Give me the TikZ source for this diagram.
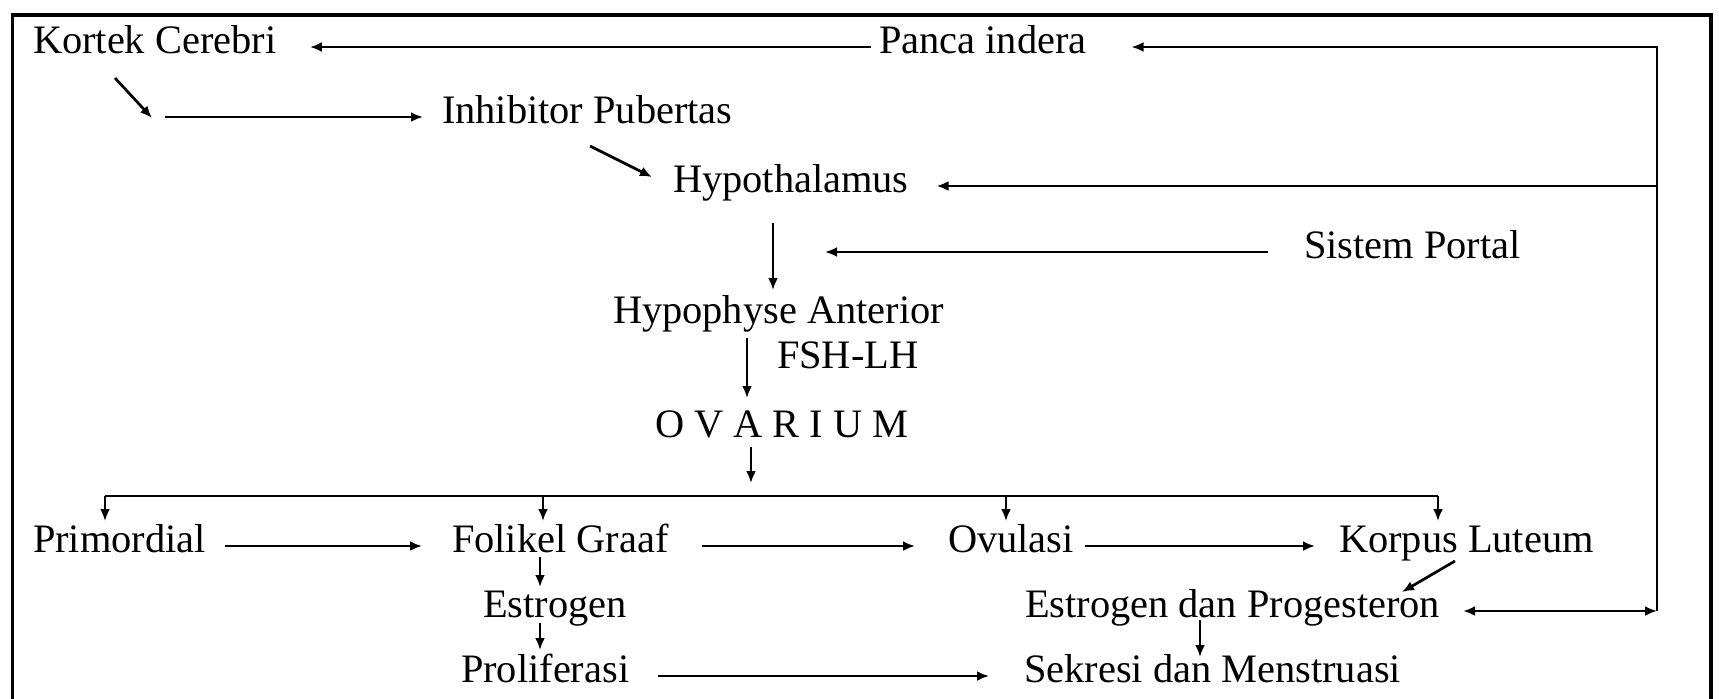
\documentclass[tikz,border=0pt]{standalone}
\usepackage{fontspec}
\setmainfont{Liberation Serif}
\usetikzlibrary{arrows.meta}
\begin{document}
\begin{tikzpicture}[x=0.5pt,y=-0.5pt,
  lbl/.style={anchor=base west,inner sep=0pt,outer sep=0pt,text height=11pt,text depth=5pt,font=\fontsize{20.2}{24}\selectfont},
  conn/.style={line width=1.35pt},
  arr/.style={conn,-{Latex[length=6pt,width=5pt]}},
  arrtwo/.style={conn,{Latex[length=6pt,width=5pt]}-{Latex[length=6pt,width=5pt]}},
  frame/.style={line width=1.7pt}]
\useasboundingbox (0,0) rectangle (1719,698);
\clip (0,0) rectangle (1719,698);
\draw[frame] (12.7,15) rectangle (1711,720);

\node[lbl] (kortek) at (33,53) {Kortek Cerebri};
\node[lbl] (panca) at (879,53) {Panca indera};
\node[lbl] (inhib) at (442,123) {Inhibitor Pubertas};
\node[lbl] (hypo) at (673,192) {Hypothalamus};
\node[lbl] (portal) at (1304,258) {Sistem Portal};
\node[lbl] (hyph) at (613,323) {Hypophyse Anterior};
\node[lbl] (fsh) at (777,368) {FSH-LH};
\node[lbl] (ovar) at (655,437) {O V A R I U M};
\node[lbl] (prim) at (33,552) {Primordial};
\node[lbl] (folikel) at (452,552) {Folikel Graaf};
\node[lbl] (ovul) at (948,552) {Ovulasi};
\node[lbl] (korpus) at (1339,552) {Korpus Luteum};
\node[lbl] (estr) at (483,617) {Estrogen};
\node[lbl] (ep) at (1025,617) {Estrogen dan Progesteron};
\node[lbl] (prolif) at (461,682) {Proliferasi};
\node[lbl] (sek) at (1024,682) {Sekresi dan Menstruasi};

\coordinate (rc) at (1657,47);
\coordinate (k1) at (152,118);
\coordinate (k2) at (165,117);
\coordinate (vx1) at (773,0);
\coordinate (vx2) at (747,0);
\coordinate (vx3) at (751,0);
\coordinate (vx4) at (540,0);
\coordinate (vx5) at (1200,0);
\coordinate (d1) at (105,496);
\coordinate (d2) at (543,496);
\coordinate (d3) at (1006,496);
\coordinate (d4) at (1438,496);

\draw[arr,shorten <=4pt,shorten >=16.75pt] (panca.west) -- (kortek.east);
\draw[arr,shorten >=22.5pt] (ep.east -| rc) -- (rc) -- (panca.east);
\draw[arrtwo,shorten <=11.5pt] (ep.east) -- (ep.east -| rc);
\draw[arr,shorten >=14pt] (hypo.east -| rc) -- (hypo.east);
\draw[arr] ([shift={(82,15)}]kortek.south west) -- (k1);
\draw[arr,shorten >=9.5pt] (k2) -- (inhib.west);
\draw[arr] ([shift={(148,13)}]inhib.south west) -- ([shift={(-21,-9)}]hypo.west);
\draw[arr,shorten <=10.5pt,shorten >=5.5pt] (hypo.south -| vx1) -- (hyph.north -| vx1);
\draw[arr,shorten <=18pt,shorten >=26pt] (portal.west) -- (portal.west -| vx1);
\draw[arr,shorten <=2.5pt,shorten >=8.5pt] (hyph.south -| vx2) -- (ovar.north -| vx2);
\draw[arr,shorten >=6.5pt] (ovar.south -| vx3) -- (d1 -| vx3);
\draw[conn] (d1) -- (d4);
\foreach \d/\n in {d1/prim,d2/folikel,d3/ovul,d4/korpus}
  \draw[arr,shorten >=4.5pt] (\d) -- (\d |- \n.north);
\draw[arr,shorten <=9.5pt,shorten >=15pt] (prim.east) -- (folikel.west);
\draw[arr,shorten <=16.5pt,shorten >=16.5pt] (folikel.east) -- (ovul.west);
\draw[arr,shorten <=5.5pt,shorten >=12pt] (ovul.east) -- (korpus.west);
\draw[arr] ([shift={(116,-1)}]korpus.south west) -- ([shift={(377,-3)}]ep.north west);
\draw[arr,shorten <=-2.5pt,shorten >=4pt] (folikel.south -| vx4) -- (estr.north -| vx4);
\draw[arr,shorten <=-2pt,shorten >=5pt] (estr.south -| vx4) -- (prolif.north -| vx4);
\draw[arr,shorten <=-3.5pt,shorten >=1.5pt] (ep.south -| vx5) -- (sek.north -| vx5);
\draw[arr,shorten <=14.5pt,shorten >=17.5pt] (prolif.east) -- (sek.west);
\end{tikzpicture}
\end{document}
